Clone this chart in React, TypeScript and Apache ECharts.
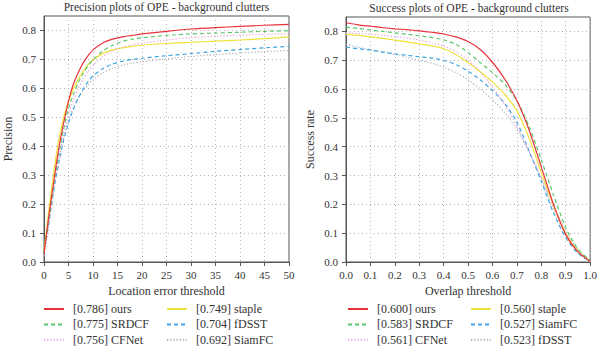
import React, { useEffect, useRef } from "react";
import * as echarts from "echarts";

const FONT = "'Liberation Serif', 'DejaVu Serif', serif";

// Precision plot (location error threshold)
const precX = [0, 1, 2, 3, 4, 5, 6, 7, 8, 9, 10, 12, 14, 16, 18, 20, 25, 30, 35, 40, 45, 50];
const precOurs = [0.03, 0.16, 0.28, 0.39, 0.48, 0.555, 0.615, 0.655, 0.688, 0.713, 0.733, 0.757, 0.77, 0.778, 0.783, 0.788, 0.797, 0.805, 0.81, 0.814, 0.818, 0.821];
const precSRDCF = [0.03, 0.15, 0.27, 0.37, 0.46, 0.53, 0.58, 0.62, 0.652, 0.678, 0.699, 0.729, 0.749, 0.762, 0.77, 0.775, 0.783, 0.788, 0.791, 0.794, 0.797, 0.799];
const precCFNet = [0.02, 0.13, 0.25, 0.35, 0.44, 0.51, 0.56, 0.6, 0.632, 0.658, 0.679, 0.709, 0.729, 0.742, 0.75, 0.756, 0.767, 0.775, 0.78, 0.784, 0.787, 0.789];
const precStaple = [0.04, 0.18, 0.31, 0.42, 0.5, 0.555, 0.598, 0.632, 0.659, 0.682, 0.699, 0.72, 0.733, 0.74, 0.745, 0.749, 0.755, 0.759, 0.763, 0.767, 0.772, 0.778];
const precFDSST = [0.03, 0.14, 0.25, 0.34, 0.42, 0.48, 0.528, 0.567, 0.598, 0.623, 0.643, 0.668, 0.684, 0.694, 0.7, 0.704, 0.713, 0.72, 0.728, 0.734, 0.74, 0.745];
const precSiamFC = [0.02, 0.13, 0.25, 0.35, 0.43, 0.49, 0.533, 0.567, 0.593, 0.613, 0.63, 0.654, 0.669, 0.68, 0.687, 0.692, 0.702, 0.71, 0.717, 0.722, 0.727, 0.731];

// Success plot (overlap threshold)
const succX = [0, 0.05, 0.1, 0.15, 0.2, 0.25, 0.3, 0.35, 0.4, 0.45, 0.5, 0.55, 0.6, 0.65, 0.7, 0.75, 0.8, 0.85, 0.9, 0.95, 1.0];
const succOurs = [0.83, 0.823, 0.818, 0.813, 0.809, 0.806, 0.802, 0.797, 0.791, 0.781, 0.765, 0.737, 0.693, 0.635, 0.56, 0.458, 0.33, 0.2, 0.095, 0.035, 0.003];
const succSRDCF = [0.815, 0.81, 0.805, 0.8, 0.795, 0.79, 0.785, 0.779, 0.771, 0.755, 0.727, 0.692, 0.657, 0.617, 0.56, 0.47, 0.355, 0.232, 0.12, 0.045, 0.005];
const succCFNet = [0.795, 0.793, 0.79, 0.786, 0.782, 0.777, 0.77, 0.761, 0.749, 0.73, 0.7, 0.658, 0.607, 0.545, 0.47, 0.385, 0.292, 0.197, 0.108, 0.04, 0.003];
const succStaple = [0.79, 0.786, 0.781, 0.776, 0.77, 0.764, 0.757, 0.75, 0.74, 0.72, 0.692, 0.66, 0.625, 0.582, 0.525, 0.43, 0.31, 0.195, 0.1, 0.04, 0.003];
const succSiamFC = [0.745, 0.74, 0.735, 0.728, 0.722, 0.717, 0.712, 0.707, 0.7, 0.685, 0.662, 0.632, 0.595, 0.55, 0.485, 0.385, 0.28, 0.17, 0.085, 0.03, 0.002];
const succFDSST = [0.755, 0.745, 0.737, 0.73, 0.72, 0.71, 0.7, 0.69, 0.676, 0.657, 0.632, 0.6, 0.563, 0.518, 0.46, 0.38, 0.288, 0.185, 0.095, 0.035, 0.003];

const yTicks = [0, 0.1, 0.2, 0.3, 0.4, 0.5, 0.6, 0.7, 0.8];

const leftNames = ["[0.786] ours", "[0.775] SRDCF", "[0.756] CFNet", "[0.749] staple", "[0.704] fDSST", "[0.692] SiamFC"];
const rightNames = ["[0.600] ours", "[0.583] SRDCF", "[0.561] CFNet", "[0.560] staple", "[0.527] SiamFC", "[0.523] fDSST"];

const RED = "#e8333b";
const GREEN = "#5cc86e";
const PINK = "#e2a2df";
const YELLOW = "#efe23a";
const BLUE = "#3ea6e2";
const GRAY = "#a9b0bb";

const DASH = [4, 3];
const DOT = [1.2, 2];

const styles = [
  { color: RED, type: "solid" as any },
  { color: GREEN, type: DASH as any },
  { color: PINK, type: DOT as any },
  { color: YELLOW, type: "solid" as any },
  { color: BLUE, type: DASH as any },
  { color: GRAY, type: DOT as any },
];

const FRAME = "#555";
const TEXT = "#333";

function pairs(xs: number[], ys: number[]) {
  return xs.map((x, i) => [x, ys[i]]);
}

function makeX(gridIndex: number, max: number, interval: number, name: string, fmt: (v: number) => string) {
  return {
    type: "value",
    gridIndex,
    min: 0,
    max,
    interval,
    name,
    nameLocation: "middle",
    nameGap: 23,
    nameTextStyle: { fontFamily: FONT, fontSize: 12, color: TEXT },
    axisLine: { show: true, lineStyle: { color: FRAME, width: 1 } },
    axisTick: { show: true, length: 4, inside: false, lineStyle: { color: FRAME } },
    axisLabel: { fontFamily: FONT, fontSize: 11, color: TEXT, margin: 7, formatter: fmt },
    splitLine: { show: true, lineStyle: { color: "#b5b5b5", type: [1, 3], width: 1 } },
  };
}

function makeY(gridIndex: number, name: string) {
  return {
    type: "value",
    gridIndex,
    min: 0,
    max: 0.85,
    interval: 0.1,
    name,
    nameLocation: "middle",
    nameGap: 30,
    nameTextStyle: { fontFamily: FONT, fontSize: 12, color: TEXT },
    axisLine: { show: true, lineStyle: { color: FRAME, width: 1 } },
    axisTick: { show: true, length: 4, inside: false, lineStyle: { color: FRAME }, customValues: yTicks },
    axisLabel: {
      fontFamily: FONT,
      fontSize: 11,
      color: TEXT,
      margin: 8,
      customValues: yTicks,
      formatter: (v: number) => v.toFixed(1),
    },
    splitLine: { show: true, lineStyle: { color: "#b5b5b5", type: [1, 3], width: 1 } },
  };
}

function makeLegend(left: number, data: string[]) {
  return {
    orient: "vertical",
    left,
    top: 303,
    padding: 0,
    itemWidth: 20,
    itemHeight: 14,
    itemGap: 3.4,
    data,
    selectedMode: false,
    itemStyle: { opacity: 0 },
    textStyle: { fontFamily: FONT, fontSize: 12, color: TEXT, padding: [0, 0, 0, 4] },
  };
}

export default function App() {
  const ref = useRef<HTMLDivElement>(null);
  useEffect(() => {
    if (!ref.current) return;
    const chart = echarts.init(ref.current, undefined, { renderer: "svg" });
    const leftSets = [precOurs, precSRDCF, precCFNet, precStaple, precFDSST, precSiamFC];
    const rightSets = [succOurs, succSRDCF, succCFNet, succStaple, succSiamFC, succFDSST];
    const series: any[] = [];
    leftSets.forEach((d, i) => {
      series.push({
        type: "line",
        name: leftNames[i],
        xAxisIndex: 0,
        yAxisIndex: 0,
        data: pairs(precX, d),
        symbol: "none",
        showSymbol: false,
        smooth: 0.25,
        color: styles[i].color,
        lineStyle: { color: styles[i].color, width: 1.2, type: styles[i].type },
        z: 10 - i,
      });
    });
    rightSets.forEach((d, i) => {
      series.push({
        type: "line",
        name: rightNames[i],
        xAxisIndex: 1,
        yAxisIndex: 1,
        data: pairs(succX, d),
        symbol: "none",
        showSymbol: false,
        smooth: 0.25,
        color: styles[i].color,
        lineStyle: { color: styles[i].color, width: 1.2, type: styles[i].type },
        z: 10 - i,
      });
    });
    chart.setOption({
      animation: false,
      backgroundColor: "#ffffff",
      textStyle: { fontFamily: FONT },
      grid: [
        { left: 44, top: 16, width: 245, height: 246, show: true, borderColor: FRAME, borderWidth: 1, backgroundColor: "transparent" },
        { left: 346, top: 17, width: 246, height: 245, show: true, borderColor: FRAME, borderWidth: 1, backgroundColor: "transparent" },
      ],
      xAxis: [
        makeX(0, 50, 5, "Location error threshold", (v: number) => String(v)),
        makeX(1, 1, 0.1, "Overlap threshold", (v: number) => v.toFixed(1)),
      ],
      yAxis: [makeY(0, "Precision"), makeY(1, "Success rate")],
      legend: [
        makeLegend(43, leftNames.slice(0, 3)),
        makeLegend(166, leftNames.slice(3, 6)),
        makeLegend(347, rightNames.slice(0, 3)),
        makeLegend(470, rightNames.slice(3, 6)),
      ],
      graphic: [
        {
          type: "text",
          x: 166.5,
          y: 7,
          style: { text: "Precision plots of OPE - background clutters", font: `11.5px ${FONT}`, fill: TEXT, textAlign: "center", textVerticalAlign: "middle" },
        },
        {
          type: "text",
          x: 469,
          y: 8,
          style: { text: "Success plots of OPE - background clutters", font: `11.5px ${FONT}`, fill: TEXT, textAlign: "center", textVerticalAlign: "middle" },
        },
      ],
      series,
    });
    return () => chart.dispose();
  }, []);
  return <div ref={ref} style={{ position: "fixed", left: 0, top: 0, width: 600, height: 355 }} />;
}
